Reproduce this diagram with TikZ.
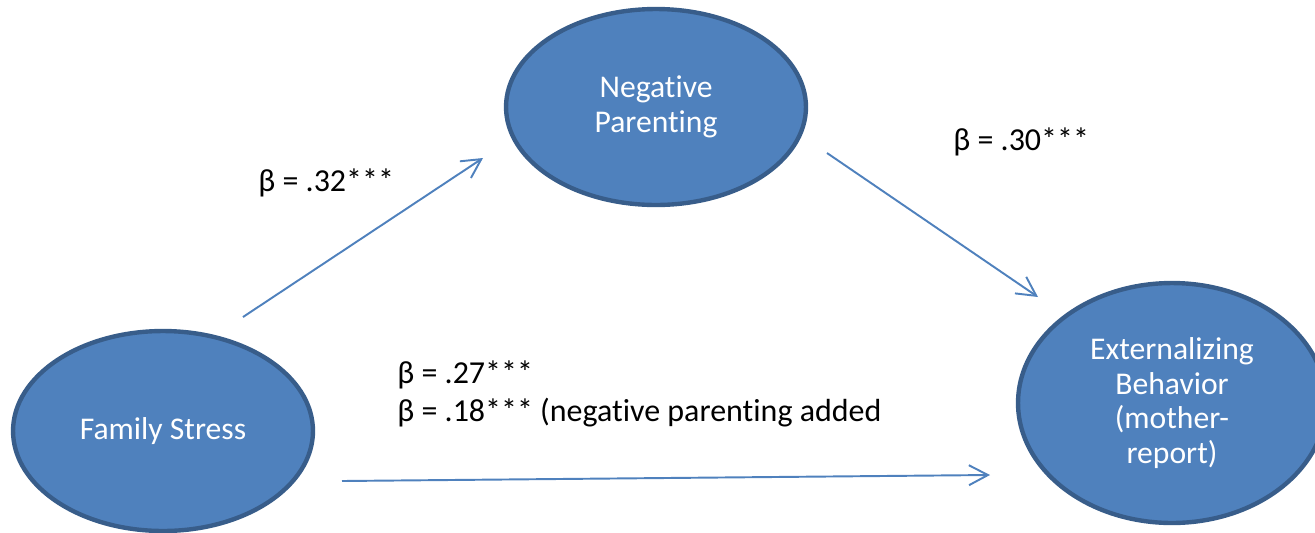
\documentclass[tikz,border=0pt]{standalone}
\usepackage{fontspec}
\setmainfont{Carlito}[Ligatures=NoCommon]
\usetikzlibrary{shapes.geometric,arrows.meta,positioning,calc}
\definecolor{nodeblue}{RGB}{79,129,189}
\definecolor{rimblue}{RGB}{56,93,138}

\begin{document}
\begin{tikzpicture}[x=0.02cm, y=-0.02cm,
    var/.style={draw=rimblue, fill=nodeblue, ellipse, line width=2.5pt, text=white, align=center, inner sep=0pt, font=\fontsize{18}{19.7}\selectfont},
    effect/.style={draw=nodeblue, line width=1.1pt, -{Straight Barb[length=0.38cm, width=0.4cm]}},
    coef/.style={anchor=west, inner sep=0pt, align=left, font=\fontsize{18.2}{21.6}\selectfont}]
    \useasboundingbox (0,0) rectangle (1315,532);

    % Variables
    \node[var, minimum width=6cm, minimum height=4cm] (fs) at (163,431) {Family Stress};
    \node[var, minimum width=6cm, minimum height=3.92cm] (np) at (656,107) {Negative\\Parenting};
    \node[var, minimum width=6.16cm, minimum height=4.8cm] (eb) at (1172,403) {Externalizing\\Behavior\\(mother-\\report)};

    % Paths
    \draw[effect] ($(fs)+(80,-114)$) -- ($(np)+(-173,51)$);
    \draw[effect] ($(np)+(171,46)$) -- ($(eb)+(-134,-106)$);
    \draw[effect] ($(fs)+(179,50)$) -- ($(eb)+(-182,72)$);

    % Coefficients
    \node[coef] (a) at (258,183) {β = .32***};
    \node[coef] (b) at (953,142) {β = .30***};
    \node[coef] (c) at (397,394) {β = .27***\\β = .18*** (negative parenting added};
\end{tikzpicture}
\end{document}
